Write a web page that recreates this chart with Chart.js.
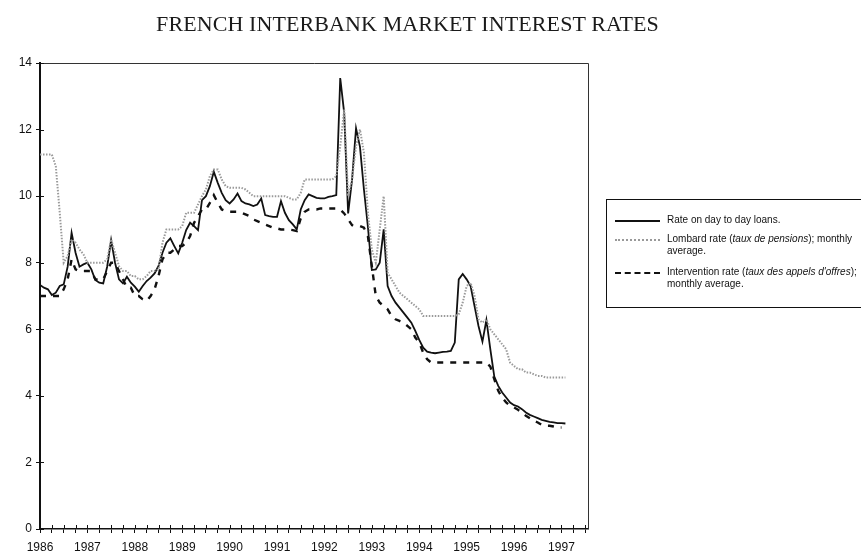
<!DOCTYPE html>
<html>
<head>
<meta charset="utf-8">
<script src="https://cdn.jsdelivr.net/npm/chart.js@4.4.1/dist/chart.umd.min.js"></script>
<style>
  html, body { margin: 0; padding: 0; background: #fff; overflow: hidden; }
  #wrap { position: relative; width: 861px; height: 553px; }
  #title {
    position: absolute; left: 0; top: 11px; width: 815px; text-align: center;
    font-family: 'Liberation Serif', 'DejaVu Serif', serif; font-size: 22px; color: #1a1a1a;
    letter-spacing: 0.1px;
  }
  #legend {
    position: absolute; left: 606px; top: 199px; width: 300px; height: 109px;
    border: 1.5px solid #111; border-right: none; box-sizing: border-box;
    font-family: 'Liberation Sans', Arial, sans-serif; font-size: 10px; color: #111;
  }
  .row { position: absolute; left: 0; white-space: nowrap; }
  .row .txt { position: absolute; left: 60px; line-height: 12px; }
  .sample { position: absolute; left: 8px; width: 45px; height: 0; }
  .s-solid { border-top: 2px solid #111; }
  .s-dot { border-top: 2px dotted #999; }
  .s-dash { border-top: 2px dashed #111; }
</style>
</head>
<body>
<div id="wrap">
  <canvas id="chart" width="861" height="553"></canvas>
  <div id="title">FRENCH INTERBANK MARKET INTEREST RATES</div>
  <div id="legend">
    <div class="row" style="top:14px"><div class="sample s-solid" style="top:6px"></div><div class="txt">Rate on day to day loans.</div></div>
    <div class="row" style="top:33px"><div class="sample s-dot" style="top:6px"></div><div class="txt">Lombard rate (<i>taux de pensions</i>); monthly<br>average.</div></div>
    <div class="row" style="top:66px"><div class="sample s-dash" style="top:6px"></div><div class="txt">Intervention rate (<i>taux des appels d'offres</i>);<br>monthly average.</div></div>
  </div>
</div>
<script>
'use strict';

const START_YEAR = 1986;
const YEAR_TICKS = [1986, 1987, 1988, 1989, 1990, 1991, 1992, 1993, 1994, 1995, 1996, 1997];
const Y_TICKS = [0, 2, 4, 6, 8, 10, 12, 14];

// Rate on day to day loans
const DAY_TO_DAY = [
  7.33, 7.25, 7.2, 7.03, 7.1, 7.3, 7.35, 7.88, 8.9, 8.3, 7.88, 7.95,          // 1986
  8.0, 7.8, 7.48, 7.4, 7.38, 7.88, 8.68, 8.0, 7.5, 7.38, 7.58, 7.4,           // 1987
  7.28, 7.13, 7.3, 7.45, 7.55, 7.68, 7.9, 8.3, 8.6, 8.73, 8.5, 8.28,          // 1988
  8.6, 8.98, 9.2, 9.1, 8.98, 9.88, 10.0, 10.3, 10.73, 10.4, 10.1, 9.88,       // 1989
  9.78, 9.9, 10.08, 9.85, 9.78, 9.75, 9.7, 9.75, 9.93, 9.43, 9.4, 9.38,       // 1990
  9.38, 9.85, 9.5, 9.28, 9.15, 9.0, 9.6, 9.88, 10.05, 10.0, 9.95, 9.93,       // 1991
  9.93, 9.98, 10.0, 10.03, 13.55, 12.5, 9.48, 10.5, 12.04, 11.48, 10.2, 9.08, // 1992
  7.78, 7.8, 8.0, 9.0, 7.3, 7.0, 6.8, 6.65, 6.5, 6.35, 6.2, 5.95,             // 1993
  5.68, 5.45, 5.33, 5.3, 5.28, 5.3, 5.32, 5.33, 5.35, 5.6, 7.5, 7.66,         // 1994
  7.5, 7.3, 6.7, 6.1, 5.63, 6.28, 5.4, 4.58, 4.3, 4.1, 3.95, 3.8,             // 1995
  3.72, 3.68, 3.6, 3.5, 3.43, 3.38, 3.33, 3.28, 3.25, 3.22, 3.2, 3.18,        // 1996
  3.18, 3.17                                                                  // 1997
];

// Lombard rate (taux de pensions); monthly average
const LOMBARD = [
  11.25, 11.25, 11.25, 11.25, 10.9, 9.5, 8.0, 8.2, 8.7, 8.6, 8.4, 8.25,       // 1986
  8.0, 8.0, 8.0, 8.0, 8.0, 8.1, 8.7, 8.3, 7.9, 7.75, 7.75, 7.6,               // 1987
  7.6, 7.5, 7.5, 7.6, 7.75, 7.75, 7.8, 8.6, 9.0, 9.0, 9.0, 9.0,               // 1988
  9.1, 9.5, 9.5, 9.5, 9.75, 10.0, 10.2, 10.6, 10.8, 10.8, 10.5, 10.3,         // 1989
  10.25, 10.25, 10.25, 10.25, 10.2, 10.1, 10.0, 10.0, 10.0, 10.0, 10.0, 10.0, // 1990
  10.0, 10.0, 10.0, 9.95, 9.9, 9.9, 10.1, 10.5, 10.5, 10.5, 10.5, 10.5,       // 1991
  10.5, 10.5, 10.5, 10.6, 11.5, 12.6, 10.0, 10.5, 11.5, 12.0, 11.3, 9.5,      // 1992
  8.4, 8.0, 9.0, 10.0, 7.7, 7.5, 7.3, 7.1, 7.0, 6.9, 6.8, 6.7,                // 1993
  6.6, 6.4, 6.4, 6.4, 6.4, 6.4, 6.4, 6.4, 6.4, 6.4, 6.45, 6.8,                // 1994
  7.3, 7.4, 7.0, 6.3, 6.2, 6.3, 6.0, 5.85, 5.7, 5.55, 5.4, 5.0,               // 1995
  4.9, 4.8, 4.8, 4.7, 4.7, 4.65, 4.6, 4.6, 4.55, 4.55, 4.55, 4.55,            // 1996
  4.55, 4.55                                                                  // 1997
];

// Intervention rate (taux des appels d'offres); monthly average
const INTERVENTION = [
  7.0, 7.0, 7.0, 7.0, 7.0, 7.0, 7.2, 7.5, 8.1, 7.8, 7.75, 7.75,               // 1986
  7.75, 7.75, 7.5, 7.5, 7.5, 7.75, 8.0, 8.0, 7.75, 7.5, 7.25, 7.25,           // 1987
  7.0, 7.0, 6.9, 6.85, 7.0, 7.2, 7.6, 8.1, 8.3, 8.3, 8.4, 8.5,                // 1988
  8.5, 8.6, 8.8, 9.2, 9.4, 9.6, 9.6, 9.8, 10.03, 9.8, 9.6, 9.55,              // 1989
  9.53, 9.53, 9.53, 9.5, 9.45, 9.4, 9.3, 9.25, 9.2, 9.15, 9.1, 9.05,          // 1990
  9.03, 9.0, 9.0, 9.0, 8.98, 8.95, 9.33, 9.53, 9.6, 9.6, 9.6, 9.63,           // 1991
  9.63, 9.63, 9.63, 9.63, 9.6, 9.48, 9.3, 9.13, 9.1, 9.1, 9.05, 8.8,          // 1992
  7.9, 7.0, 6.8, 6.7, 6.6, 6.4, 6.3, 6.25, 6.2, 6.1, 6.0, 5.75,               // 1993
  5.6, 5.3, 5.1, 5.0, 5.0, 5.0, 5.0, 5.0, 5.0, 5.0, 5.0, 5.0,                 // 1994
  5.0, 5.0, 5.0, 5.0, 5.0, 5.0, 4.88, 4.5, 4.15, 3.95, 3.8, 3.7,              // 1995
  3.65, 3.58, 3.5, 3.4, 3.33, 3.25, 3.2, 3.13, 3.1, 3.1, 3.08, 3.05,          // 1996
  3.05                                                                        // 1997
];

const toPoints = vals => vals.map((v, i) => ({ x: START_YEAR + i / 12, y: v }));

/* ── Frame + crossing tick marks (the scanned chart has ticks on both sides) ── */
const framePlugin = {
  id: 'frame',
  afterDraw(chart) {
    const { ctx, chartArea: a, scales } = chart;
    ctx.save();
    ctx.strokeStyle = '#333';
    ctx.lineWidth = 1;
    ctx.beginPath();
    ctx.moveTo(a.left, a.top + 0.5);
    ctx.lineTo(a.right + 0.5, a.top + 0.5);
    ctx.lineTo(a.right + 0.5, a.bottom);
    ctx.stroke();
    ctx.strokeStyle = '#111';
    ctx.beginPath();
    scales.x.ticks.forEach(t => {
      const px = Math.round(scales.x.getPixelForValue(t.value)) + 0.5;
      ctx.moveTo(px, a.bottom);
      ctx.lineTo(px, a.bottom - 4);
    });
    scales.y.ticks.forEach(t => {
      const py = Math.round(scales.y.getPixelForValue(t.value)) + 0.5;
      ctx.moveTo(a.left, py);
      ctx.lineTo(a.left + 4, py);
    });
    ctx.stroke();
    ctx.restore();
  },
};

new Chart(document.getElementById('chart'), {
  type: 'line',
  data: {
    datasets: [
      {
        label: 'Intervention rate',
        data: toPoints(INTERVENTION),
        borderColor: '#111',
        borderWidth: 2.4,
        borderDash: [6, 7],
        pointRadius: 0,
        tension: 0,
      },
      {
        label: 'Lombard rate',
        data: toPoints(LOMBARD),
        borderColor: '#9a9a9a',
        borderWidth: 2,
        borderDash: [1.5, 1.5],
        pointRadius: 0,
        tension: 0,
      },
      {
        label: 'Rate on day to day loans',
        data: toPoints(DAY_TO_DAY),
        borderColor: '#111',
        borderWidth: 1.8,
        pointRadius: 0,
        tension: 0,
      },
    ],
  },
  options: {
    responsive: false,
    animation: false,
    layout: { padding: { left: 0, top: 63, right: 273, bottom: 0 } },
    plugins: { legend: { display: false }, tooltip: { enabled: false }, title: { display: false } },
    scales: {
      x: {
        type: 'linear',
        min: 1986,
        max: 1997.56,
        afterBuildTicks: scale => {
          const ticks = [];
          for (let q = 0; q <= 46; q++) ticks.push({ value: 1986 + q / 4 });
          scale.ticks = ticks;
        },
        afterFit: scale => { scale.height = 24; },
        grid: { drawOnChartArea: false, tickLength: 4, color: '#111', lineWidth: 1 },
        border: { color: '#111', width: 1.5 },
        ticks: {
          autoSkip: false,
          maxRotation: 0,
          padding: 7,
          color: '#111',
          font: { family: "'Liberation Sans', Arial, sans-serif", size: 12 },
          callback: v => (YEAR_TICKS.includes(v) ? String(v) : ''),
        },
      },
      y: {
        min: 0,
        max: 14,
        afterBuildTicks: scale => { scale.ticks = Y_TICKS.map(v => ({ value: v })); },
        afterFit: scale => { scale.width = 40; },
        grid: { drawOnChartArea: false, tickLength: 4, color: '#111', lineWidth: 1 },
        border: { color: '#111', width: 2 },
        ticks: {
          padding: 4,
          color: '#111',
          font: { family: "'Liberation Sans', Arial, sans-serif", size: 12 },
        },
      },
    },
  },
  plugins: [framePlugin],
});
</script>
</body>
</html>
